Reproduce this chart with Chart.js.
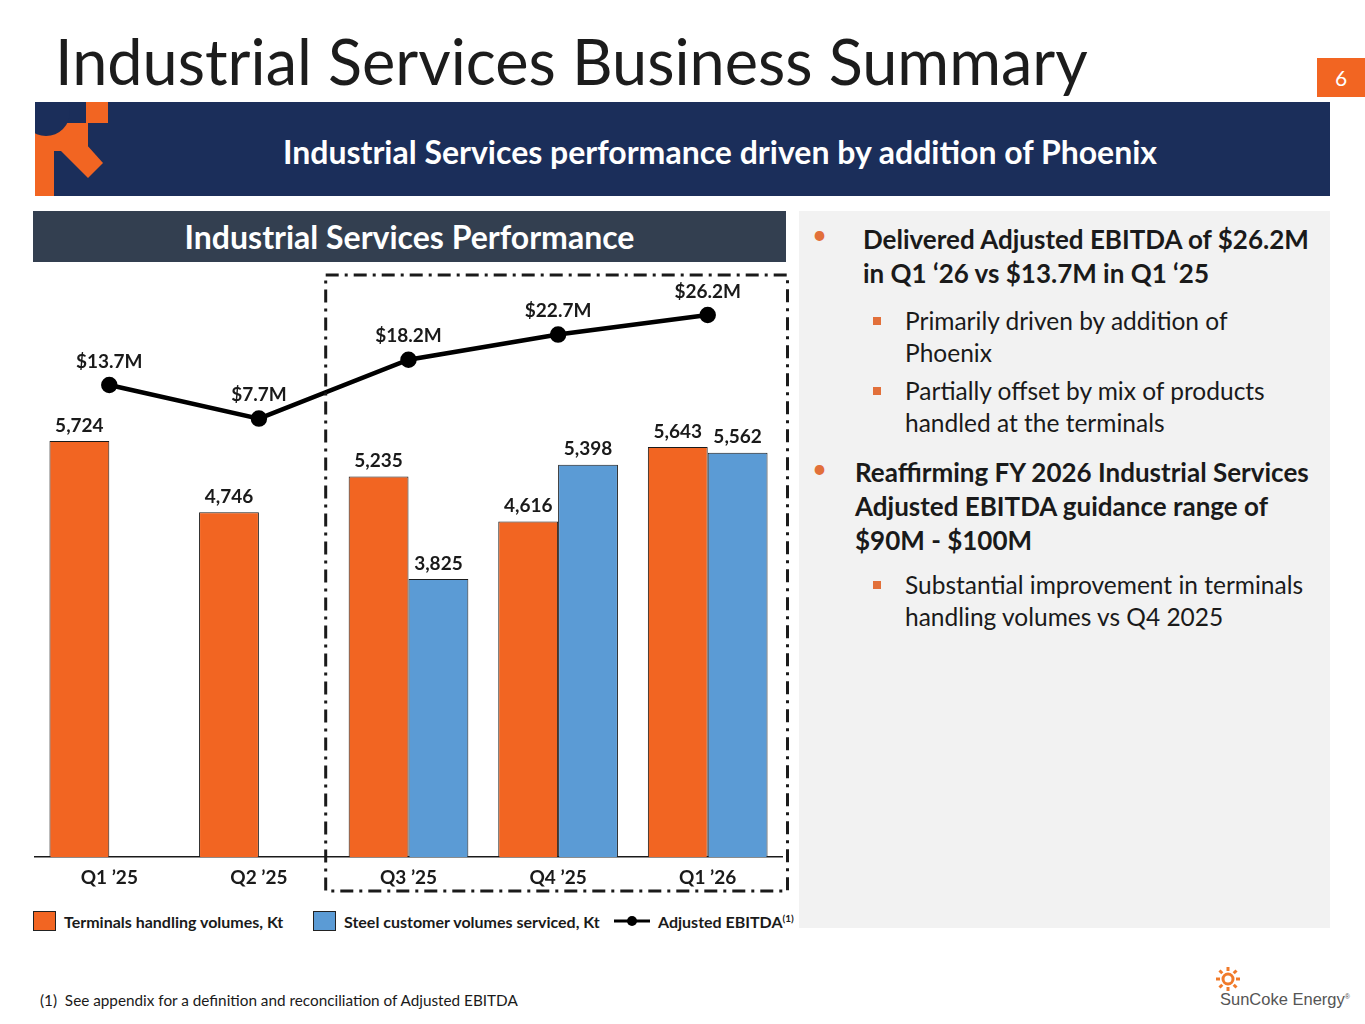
<!DOCTYPE html>
<html>
<head>
<meta charset="utf-8">
<script src="https://cdn.jsdelivr.net/npm/chart.js@4.4.1/dist/chart.umd.min.js"></script>
<style>
  body { margin: 0; width: 1365px; height: 1024px; position: relative; background: #fff; font-family: Lato, "Open Sans", sans-serif; color: #1a1a1a; overflow: hidden; }
  .abs { position: absolute; }
  #title { left: 55px; top: 23px; font-size: 63px; white-space: nowrap; color: #1c1c1c; }
  #pageNo { left: 1317px; top: 58px; width: 48px; height: 39px; background: #f26522; color: #fff; font-size: 21px; text-align: center; line-height: 39px; }
  #banner { left: 35px; top: 102px; width: 1295px; height: 94px; background: #1b2e5a; }
  #bannerText { left: 35px; top: 102px; width: 1370px; height: 94px; line-height: 100px; text-align: center; color: #fff; font-weight: bold; font-size: 32px; }
  #subHead { left: 33px; top: 211px; width: 753px; height: 51px; background: #333f50; color: #fff; font-weight: bold; font-size: 32px; text-align: center; line-height: 52px; }
  #panel { left: 799px; top: 211px; width: 531px; height: 717px; background: #f2f2f2; }
  #chartBox { left: 24px; top: 265px; width: 769px; height: 638px; }
  .legend { top: 911px; height: 20px; font-size: 16px; font-weight: bold; white-space: nowrap; display: flex; align-items: center; }
  .swatch { display: inline-block; width: 21px; height: 18px; border: 1px solid #222; margin-right: 8px; }
  .b1 { font-weight: bold; font-size: 26px; line-height: 34px; white-space: nowrap; }
  .b2 { font-size: 24.5px; line-height: 32px; white-space: nowrap; }
  .dot { color: #e2703a; font-size: 26px; }
  .sq { width: 8px; height: 8px; background: #e2703a; }
  #foot { left: 40px; top: 991px; font-size: 15.3px; white-space: nowrap; }
  #brand { left: 1220px; top: 990px; font-family: "Liberation Sans", Arial, sans-serif; font-size: 16.5px; color: #555; white-space: nowrap; }
</style>
</head>
<body>
<div id="title" class="abs">Industrial Services Business Summary</div>
<div id="pageNo" class="abs">6</div>
<div id="banner" class="abs"></div>
<svg class="abs" style="left:0;top:0" width="130" height="200">
  <defs><clipPath id="bclip"><rect x="35" y="102" width="95" height="94"/></clipPath></defs>
  <g clip-path="url(#bclip)">
    <rect x="35" y="123" width="53" height="28" fill="#f26522"/>
    <circle cx="46" cy="112" r="24" fill="#1b2e5a"/>
    <rect x="35" y="138" width="19" height="58" fill="#f26522"/>
    <polygon points="60,150 77,134 103,163 88,178" fill="#f26522"/>
    <rect x="86" y="102" width="22" height="21" fill="#f26522"/>
  </g>
</svg>
<div id="bannerText" class="abs">Industrial Services performance driven by addition of Phoenix</div>
<div id="subHead" class="abs">Industrial Services Performance</div>
<div id="panel" class="abs"></div>

<div class="abs dot" style="left:812px;top:218px">&#8226;</div>
<div class="abs b1" style="left:863px;top:222px">Delivered Adjusted EBITDA of $26.2M<br>in Q1 &#8216;26 vs $13.7M in Q1 &#8216;25</div>
<div class="abs sq" style="left:873px;top:317px"></div>
<div class="abs b2" style="left:905px;top:305px">Primarily driven by addition of<br>Phoenix</div>
<div class="abs sq" style="left:873px;top:387px"></div>
<div class="abs b2" style="left:905px;top:375px">Partially offset by mix of products<br>handled at the terminals</div>
<div class="abs dot" style="left:812px;top:452px">&#8226;</div>
<div class="abs b1" style="left:855px;top:455px">Reaffirming FY 2026 Industrial Services<br>Adjusted EBITDA guidance range of<br>$90M - $100M</div>
<div class="abs sq" style="left:873px;top:581px"></div>
<div class="abs b2" style="left:905px;top:569px">Substantial improvement in terminals<br>handling volumes vs Q4 2025</div>

<div id="chartBox" class="abs"><canvas id="myChart"></canvas></div>

<div class="abs legend" style="left:33px"><span class="swatch" style="background:#f26522"></span>Terminals handling volumes, Kt</div>
<div class="abs legend" style="left:313px"><span class="swatch" style="background:#5b9bd5"></span>Steel customer volumes serviced, Kt</div>
<div class="abs legend" style="left:612px">
  <svg width="40" height="14" style="margin-right:6px"><line x1="2" y1="7" x2="38" y2="7" stroke="#000" stroke-width="3"/><circle cx="20" cy="7" r="5" fill="#000"/></svg>Adjusted EBITDA<sup style="font-size:10px;position:relative;top:-3px">(1)</sup>
</div>

<div id="foot" class="abs">(1)&nbsp; See appendix for a definition and reconciliation of Adjusted EBITDA</div>
<svg class="abs" style="left:1215px;top:966px" width="26" height="26">
  <g stroke="#f07a2a" stroke-width="3" fill="none">
    <circle cx="13" cy="13" r="5"/>
    <line x1="13" y1="1" x2="13" y2="5"/><line x1="13" y1="21" x2="13" y2="25"/>
    <line x1="1" y1="13" x2="5" y2="13"/><line x1="21" y1="13" x2="25" y2="13"/>
    <line x1="4.5" y1="4.5" x2="7.3" y2="7.3"/><line x1="18.7" y1="18.7" x2="21.5" y2="21.5"/>
    <line x1="21.5" y1="4.5" x2="18.7" y2="7.3"/><line x1="4.5" y1="21.5" x2="7.3" y2="18.7"/>
  </g>
</svg>
<div id="brand" class="abs">SunCoke Energy<sup style="font-size:7px">&reg;</sup></div>

<script>
var quarters = ['Q1 \u201925', 'Q2 \u201925', 'Q3 \u201925', 'Q4 \u201925', 'Q1 \u201926'];
var terminalsKt = [5724, 4746, 5235, 4616, 5643];
var steelKt = [null, null, 3825, 5398, 5562];
var ebitdaM = [13.7, 7.7, 18.2, 22.7, 26.2];

var labelFont = 'bold 19px Lato';

// numbers above bars and line points
var valueLabels = {
  id: 'valueLabels',
  afterDatasetsDraw: function(chart) {
    var c = chart.ctx;
    c.save();
    c.font = labelFont;
    c.fillStyle = '#1a1a1a';
    c.textAlign = 'center';
    c.textBaseline = 'bottom';
    chart.data.datasets.forEach(function(ds, i) {
      chart.getDatasetMeta(i).data.forEach(function(el, j) {
        var v = ds.data[j];
        if (v == null) return;
        if (ds.type === 'line') {
          c.fillText('$' + v.toFixed(1) + 'M', el.x, el.y - 14);
        } else {
          c.fillText(v.toLocaleString('en-US'), el.x, el.y - 6);
        }
      });
    });
    c.restore();
  }
};

// dash-dot frame round the last three quarters
var frameBox = {
  id: 'frameBox',
  afterDraw: function(chart) {
    var c = chart.ctx, x = chart.scales.x;
    var left = (x.getPixelForValue(1) + x.getPixelForValue(2)) / 2 - 8;
    var right = chart.chartArea.right + 5;
    c.save();
    c.strokeStyle = '#1a1a1a';
    c.lineWidth = 3;
    c.setLineDash([13, 6, 3, 6]);
    c.strokeRect(left, 10, right - left, 616);
    c.restore();
  }
};

var ctx = document.getElementById('myChart');
var myChart = new Chart(ctx, {
  type: 'bar',
  data: {
    labels: quarters,
    datasets: [{
      type: 'line',
      label: 'Adjusted EBITDA',
      data: ebitdaM,
      yAxisID: 'y1',
      borderColor: '#000',
      backgroundColor: '#000',
      borderWidth: 4.5,
      pointRadius: 6,
      pointBackgroundColor: '#000',
      tension: 0,
      order: 0
    }, {
      label: 'Terminals handling volumes, Kt',
      data: terminalsKt,
      backgroundColor: '#f26522',
      borderColor: '#1a1a1a',
      borderWidth: 1,
      order: 1
    }, {
      label: 'Steel customer volumes serviced, Kt',
      data: steelKt,
      backgroundColor: '#5b9bd5',
      borderColor: '#1a1a1a',
      borderWidth: 1,
      order: 2
    }]
  },
  options: {
    responsive: true,
    maintainAspectRatio: false,
    animation: false,
    datasets: { bar: { barPercentage: 1, categoryPercentage: 0.8 } },
    layout: { padding: { left: 1, right: 9, top: 20, bottom: 5 } },
    plugins: { legend: { display: false }, tooltip: { enabled: false } },
    scales: {
      x: {
        grid: { display: false, drawTicks: false },
        border: { color: '#1a1a1a', width: 1.5 },
        ticks: { color: '#1a1a1a', font: { family: 'Lato', size: 19, weight: 'bold' }, padding: 9 }
      },
      y: { display: false, min: 0, max: 7870 },
      y1: { display: false, min: -70.6, max: 31.55 }
    }
  },
  plugins: [valueLabels, frameBox]
});
</script>
</body>
</html>
